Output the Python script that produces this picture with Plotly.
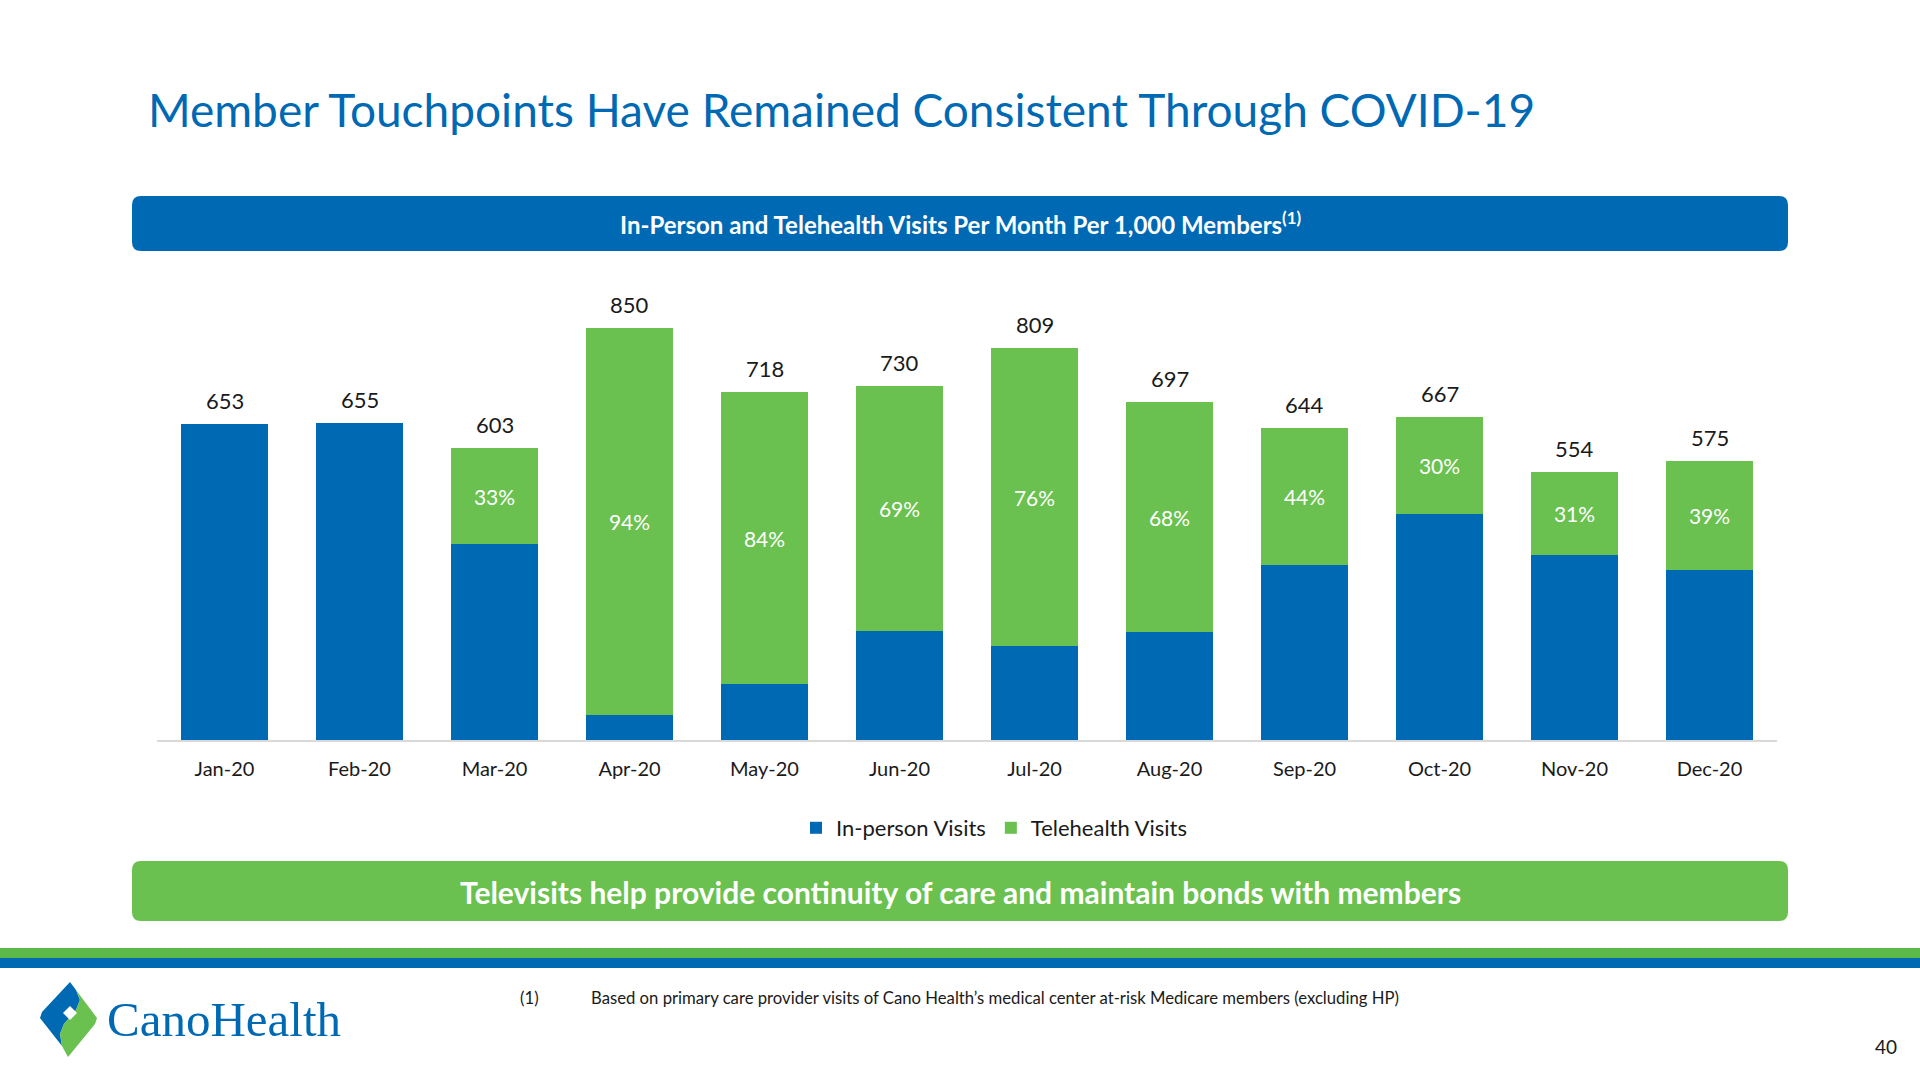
import plotly.graph_objects as go

months = ["Jan-20", "Feb-20", "Mar-20", "Apr-20", "May-20", "Jun-20",
          "Jul-20", "Aug-20", "Sep-20", "Oct-20", "Nov-20", "Dec-20"]
totals = [653, 655, 603, 850, 718, 730, 809, 697, 644, 667, 554, 575]
in_person = [653, 655, 404, 51, 115, 226, 194, 223, 361, 467, 382, 351]
telehealth = [None, None, 199, 799, 603, 504, 615, 474, 283, 200, 172, 224]
tele_pct = [None, None, "33%", "94%", "84%", "69%", "76%", "68%", "44%", "30%", "31%", "39%"]

BLUE = "#0069B4"
GREEN = "#6AC150"
FONT = "Lato"

W, H = 1920, 1080
PL, PR, PT, PB = 157, 1777, 304, 740  # plot area in pixels


def px(x):
    return (x - PL) / (PR - PL)


def py(y):
    return (PB - y) / (PB - PT)


def rrect(x0, y0, x1, y1, r):
    return (f"M {px(x0 + r)},{py(y0)} L {px(x1 - r)},{py(y0)} "
            f"Q {px(x1)},{py(y0)} {px(x1)},{py(y0 + r)} "
            f"L {px(x1)},{py(y1 - r)} Q {px(x1)},{py(y1)} {px(x1 - r)},{py(y1)} "
            f"L {px(x0 + r)},{py(y1)} Q {px(x0)},{py(y1)} {px(x0)},{py(y1 - r)} "
            f"L {px(x0)},{py(y0 + r)} Q {px(x0)},{py(y0)} {px(x0 + r)},{py(y0)} Z")


def poly(points):
    return "M " + " L ".join(f"{px(a)},{py(b)}" for a, b in points) + " Z"


tele_idx = [i for i, v in enumerate(telehealth) if v is not None]

fig = go.Figure()
fig.add_trace(go.Bar(
    x=months, y=in_person, name="In-person Visits",
    marker=dict(color=BLUE, line=dict(width=0)),
    hoverinfo="skip",
))
fig.add_trace(go.Bar(
    x=[months[i] for i in tele_idx], y=[telehealth[i] for i in tele_idx],
    name="Telehealth Visits",
    marker=dict(color=GREEN, line=dict(width=0)),
    text=[tele_pct[i] for i in tele_idx], textposition="inside", insidetextanchor="middle",
    textfont=dict(color="white", size=21, family=FONT),
    constraintext="none", textangle=0,
    hoverinfo="skip",
))

annotations = []
for m, t in zip(months, totals):
    annotations.append(dict(x=m, y=t, xref="x", yref="y", text=str(t),
                            showarrow=False, yanchor="bottom", yshift=8,
                            font=dict(size=22, color="#1a1a1a", family=FONT)))

# Title
annotations.append(dict(x=px(146), y=py(110), xref="paper", yref="paper",
                        text="Member Touchpoints Have Remained Consistent Through COVID-19",
                        showarrow=False, xanchor="left", yanchor="middle",
                        font=dict(size=46, color=BLUE, family=FONT)))
# Header bar text
annotations.append(dict(x=px(960), y=py(223), xref="paper", yref="paper",
                        text="<b>In-Person and Telehealth Visits Per Month Per 1,000 Members<sup>(1)</sup></b>",
                        showarrow=False, xanchor="center", yanchor="middle",
                        font=dict(size=24, color="white", family=FONT)))
# Green bar text
annotations.append(dict(x=px(960), y=py(892), xref="paper", yref="paper",
                        text="<b>Televisits help provide continuity of care and maintain bonds with members</b>",
                        showarrow=False, xanchor="center", yanchor="middle",
                        font=dict(size=30, color="white", family=FONT)))
# Footnote
annotations.append(dict(x=px(518), y=py(998), xref="paper", yref="paper",
                        text="(1)", showarrow=False, xanchor="left", yanchor="middle",
                        font=dict(size=16.7, color="#1a1a1a", family=FONT)))
annotations.append(dict(x=px(589), y=py(998), xref="paper", yref="paper",
                        text="Based on primary care provider visits of Cano Health\u2019s medical center at-risk Medicare members (excluding HP)",
                        showarrow=False, xanchor="left", yanchor="middle",
                        font=dict(size=16.7, color="#1a1a1a", family=FONT)))
# Page number
annotations.append(dict(x=px(1899), y=py(1046), xref="paper", yref="paper",
                        text="40", showarrow=False, xanchor="right", yanchor="middle",
                        font=dict(size=19, color="#1a1a1a", family=FONT)))
# Logo text
annotations.append(dict(x=px(105), y=py(1019), xref="paper", yref="paper",
                        text="CanoHealth", showarrow=False, xanchor="left", yanchor="middle",
                        font=dict(size=49, color=BLUE, family="Liberation Serif")))

shapes = [
    dict(type="path", xref="paper", yref="paper", path=rrect(132, 196, 1788, 251, 9),
         fillcolor=BLUE, line=dict(width=0), layer="below"),
    dict(type="path", xref="paper", yref="paper", path=rrect(132, 861, 1788, 921, 9),
         fillcolor=GREEN, line=dict(width=0), layer="below"),
    dict(type="rect", xref="paper", yref="paper", x0=px(0), x1=px(W), y0=py(948), y1=py(958),
         fillcolor="#5DB84A", line=dict(width=0)),
    dict(type="rect", xref="paper", yref="paper", x0=px(0), x1=px(W), y0=py(958), y1=py(968),
         fillcolor=BLUE, line=dict(width=0)),
    # logo: blue upper-left, green lower-right, white center diamond
    dict(type="path", xref="paper", yref="paper",
         path=poly([(70, 982), (42, 1012), (40, 1018), (62, 1046), (60, 1034),
                    (64, 1024), (76, 1010), (80, 1000), (76, 990)]),
         fillcolor=BLUE, line=dict(width=0)),
    dict(type="path", xref="paper", yref="paper",
         path=poly([(76, 990), (80, 1000), (76, 1010), (64, 1024), (60, 1034),
                    (62, 1046), (68, 1057), (95, 1024), (97, 1018)]),
         fillcolor=GREEN, line=dict(width=0)),
    dict(type="path", xref="paper", yref="paper",
         path=poly([(70, 1006), (63, 1013), (70, 1020), (77, 1013)]),
         fillcolor="white", line=dict(width=0)),
]

fig.update_layout(
    width=W, height=H, autosize=False,
    margin=dict(l=PL, r=W - PR, t=PT, b=H - PB, pad=0),
    paper_bgcolor="white", plot_bgcolor="white",
    barmode="stack", bargap=0.36,
    font=dict(family=FONT, color="#1a1a1a"),
    showlegend=True,
    legend=dict(orientation="h", x=px(994), y=py(828), xanchor="center", yanchor="middle",
                font=dict(size=22, color="#1a1a1a", family=FONT), itemwidth=30,
                traceorder="normal", bgcolor="rgba(0,0,0,0)"),
    xaxis=dict(showgrid=False, zeroline=False, showline=True, linecolor="#D9D9D9", linewidth=1.5,
               ticks="", tickfont=dict(size=20, color="#1a1a1a", family=FONT),
               ticklabelstandoff=10, fixedrange=True),
    yaxis=dict(range=[0, 900], visible=False, showgrid=False, fixedrange=True),
    annotations=annotations,
    shapes=shapes,
)

fig.write_html("out.html", config={"displayModeBar": False},
               post_script="document.body.style.margin='0';")
